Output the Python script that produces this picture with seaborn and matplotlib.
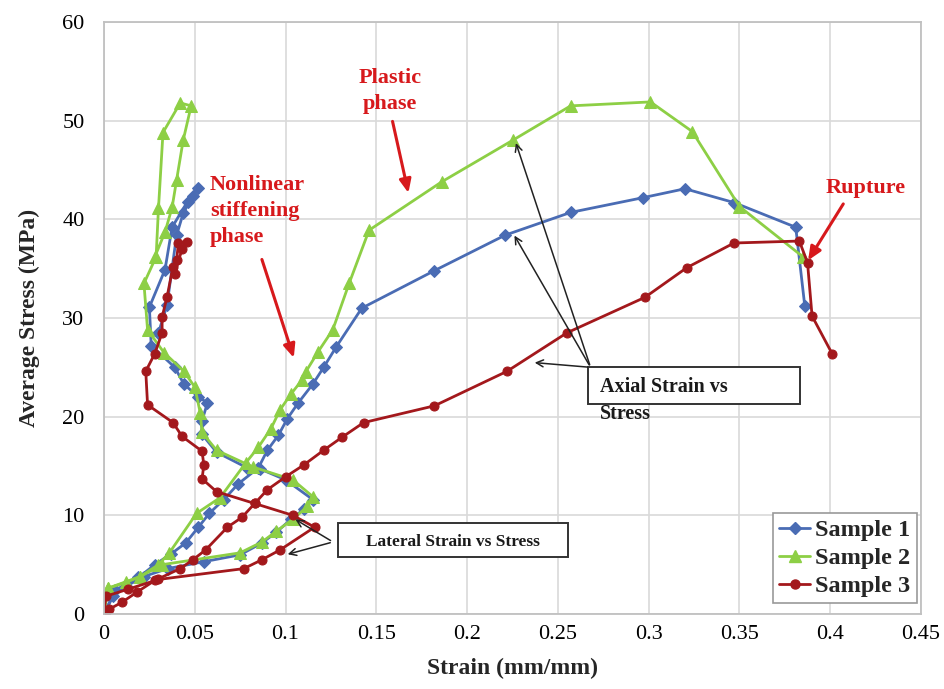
import matplotlib
matplotlib.use("Agg")
import matplotlib.pyplot as plt
from matplotlib.patches import Rectangle
from matplotlib.lines import Line2D
import seaborn as sns

# Axial and lateral stress-strain data (strain in mm/mm, stress in MPa)
s1_axial_strain = [0, 0.006, 0.019, 0.028, 0.037, 0.045, 0.052, 0.058, 0.066, 0.074, 0.085, 0.090,
                   0.096, 0.101, 0.107, 0.115, 0.121, 0.128, 0.142, 0.182, 0.221, 0.257, 0.297,
                   0.320, 0.347, 0.381, 0.386]
s1_axial_stress = [0, 2.4, 3.7, 5.0, 6.1, 7.2, 8.8, 10.2, 11.6, 13.2, 14.8, 16.6,
                   18.1, 19.8, 21.4, 23.3, 25.0, 27.1, 31.0, 34.8, 38.4, 40.7, 42.2,
                   43.1, 41.7, 39.2, 31.2]
s1_lat_strain = [0, 0.005, 0.012, 0.022, 0.035, 0.055, 0.075, 0.087, 0.095, 0.103, 0.110, 0.115,
                 0.100, 0.086, 0.079, 0.062, 0.054, 0.054, 0.057, 0.052, 0.044, 0.039, 0.026,
                 0.025, 0.0336, 0.0375, 0.046, 0.052, 0.049, 0.0436, 0.040, 0.0347, 0.030]
s1_lat_stress = [0, 1.8, 2.8, 3.8, 4.6, 5.3, 6.0, 7.2, 8.3, 9.6, 10.6, 11.6,
                 13.6, 14.7, 14.8, 16.4, 18.2, 19.6, 21.4, 22.0, 23.3, 25.0, 27.2,
                 31.1, 34.9, 39.2, 41.8, 43.2, 42.4, 40.6, 38.4, 31.3, 28.5]

s2_axial_strain = [0, 0.002, 0.020, 0.030, 0.036, 0.051, 0.064, 0.078, 0.085, 0.092, 0.097,
                   0.103, 0.109, 0.111, 0.118, 0.126, 0.135, 0.146, 0.186, 0.225, 0.257,
                   0.301, 0.324, 0.350, 0.385]
s2_axial_stress = [0, 2.6, 3.8, 5.0, 6.2, 10.2, 11.8, 15.3, 16.9, 18.8, 20.7,
                   22.3, 23.7, 24.5, 26.6, 28.8, 33.5, 38.9, 43.8, 48.0, 51.5,
                   51.9, 48.9, 41.3, 36.2]
s2_lat_strain = [0, 0.002, 0.012, 0.020, 0.032, 0.075, 0.087, 0.095, 0.104, 0.112, 0.115,
                 0.104, 0.082, 0.062, 0.054, 0.053, 0.050, 0.044, 0.033, 0.024, 0.022,
                 0.0287, 0.030, 0.0325, 0.042, 0.048, 0.0436, 0.040, 0.0375, 0.0336, 0.028]
s2_lat_stress = [0, 2.6, 3.2, 3.8, 5.0, 6.2, 7.3, 8.4, 9.6, 10.9, 11.9,
                 13.6, 14.9, 16.6, 18.4, 20.4, 23.0, 24.6, 26.5, 28.8, 33.5,
                 36.2, 41.1, 48.8, 51.8, 51.5, 48.0, 44.0, 41.2, 38.7, 36.2]

s3_axial_strain = [0, 0.003, 0.010, 0.018, 0.028, 0.042, 0.049, 0.056, 0.068, 0.076, 0.083,
                   0.090, 0.100, 0.110, 0.121, 0.131, 0.143, 0.182, 0.222, 0.255, 0.298,
                   0.321, 0.347, 0.383, 0.3875, 0.390, 0.401]
s3_axial_stress = [0, 0.5, 1.2, 2.2, 3.4, 4.6, 5.5, 6.5, 8.8, 9.8, 11.2,
                   12.6, 13.9, 15.1, 16.6, 17.9, 19.4, 21.1, 24.6, 28.5, 32.1,
                   35.1, 37.6, 37.8, 35.6, 30.2, 26.4]
s3_lat_strain = [0, 0.001, 0.013, 0.030, 0.077, 0.087, 0.097, 0.116, 0.104, 0.083, 0.062,
                 0.054, 0.055, 0.054, 0.043, 0.038, 0.024, 0.023, 0.028, 0.032, 0.032,
                 0.0347, 0.038, 0.040, 0.041, 0.0457, 0.043, 0.039]
s3_lat_stress = [0, 1.8, 2.5, 3.5, 4.6, 5.5, 6.5, 8.8, 10.0, 11.2, 12.4,
                 13.7, 15.1, 16.5, 18.0, 19.4, 21.2, 24.6, 26.4, 28.5, 30.1,
                 32.1, 35.2, 35.9, 37.6, 37.7, 37.0, 34.5]

sample_names = ["Sample 1", "Sample 2", "Sample 3"]
sample_colors = ["#4a6cb4", "#8dcf45", "#a3181c"]
sample_markers = ["D", "^", "o"]
sample_msizes = [6.5, 8, 6.5]

x_ticks = [0, 0.05, 0.1, 0.15, 0.2, 0.25, 0.3, 0.35, 0.4, 0.45]
x_ticklabels = ["0", "0.05", "0.1", "0.15", "0.2", "0.25", "0.3", "0.35", "0.4", "0.45"]
y_ticks = [0, 10, 20, 30, 40, 50, 60]

sns.set_style("white")
plt.rcParams["font.family"] = ["Liberation Serif", "DejaVu Serif"]

fig = plt.figure(figsize=(9.44, 6.89), dpi=100)
ax = fig.add_axes([104 / 944, 1 - 614 / 689, 817 / 944, 592 / 689])

series = [
    (s1_axial_strain, s1_axial_stress, s1_lat_strain, s1_lat_stress),
    (s2_axial_strain, s2_axial_stress, s2_lat_strain, s2_lat_stress),
    (s3_axial_strain, s3_axial_stress, s3_lat_strain, s3_lat_stress),
]

for (ax_x, ax_y, lat_x, lat_y), c, m, ms in zip(series, sample_colors, sample_markers, sample_msizes):
    for xs, ys in ((lat_x, lat_y), (ax_x, ax_y)):
        sns.lineplot(x=xs, y=ys, sort=False, estimator=None, ax=ax, color=c,
                     marker=m, markersize=ms, markeredgecolor=c, linewidth=2.0,
                     legend=False)

ax.set_xlim(0, 0.45)
ax.set_ylim(0, 60)
ax.set_xticks(x_ticks)
ax.set_xticklabels(x_ticklabels)
ax.set_yticks(y_ticks)
ax.grid(True, color="#d9d9d9", linewidth=1.2)
ax.set_axisbelow(True)
for sp in ax.spines.values():
    sp.set_color("#c0c0c0")
    sp.set_linewidth(1.3)
ax.tick_params(axis="both", length=0, labelsize=16, colors="black")
ax.tick_params(axis="y", pad=14)
ax.tick_params(axis="x", pad=8)

ax.set_xlabel("Strain (mm/mm)", fontsize=17, fontweight="bold", labelpad=10)
ax.set_ylabel("Average Stress (MPa)", fontsize=17, fontweight="bold", labelpad=16)

red = "#d7191c"
txt_kw = dict(color=red, fontsize=16, fontweight="bold")
arrow_red = dict(arrowstyle="-|>,head_length=0.8,head_width=0.35", color=red, lw=2.2)
ax.text(0.1575, 53.0, "Plastic\nphase", ha="center", va="center", linespacing=1.45, **txt_kw)
ax.annotate("", xy=(0.168, 42.4), xytext=(0.1586, 50.2), arrowprops=arrow_red)
ax.text(0.0584, 40.8, "Nonlinear\nstiffening\nphase", ha="left", va="center", linespacing=1.4, **txt_kw)
ax.annotate("", xy=(0.105, 25.7), xytext=(0.0865, 36.2), arrowprops=arrow_red)
ax.text(0.4197, 43.2, "Rupture", ha="center", va="center", **txt_kw)
ax.annotate("", xy=(0.387, 35.6), xytext=(0.408, 41.8), arrowprops=arrow_red)

# Axial callout
ax.add_patch(Rectangle((0.2666, 21.3), 0.1168, 3.7, facecolor="white",
                       edgecolor="#333333", linewidth=1.4, zorder=4))
ax.text(0.273, 23.0, "Axial Strain vs", ha="left", va="center", fontsize=14.5,
        fontweight="bold", color="#1a1a1a", zorder=5)
ax.text(0.273, 20.3, "Stress", ha="left", va="center", fontsize=14.5,
        fontweight="bold", color="#1a1a1a", zorder=5)
for tx, ty in ((0.2264, 48.0), (0.2253, 38.6), (0.2357, 25.5)):
    ax.annotate("", xy=(tx, ty), xytext=(0.268, 25.0),
                arrowprops=dict(arrowstyle="->,head_length=0.5,head_width=0.25",
                                color="#222222", lw=1.1), zorder=5)

# Lateral callout
ax.add_patch(Rectangle((0.1289, 5.78), 0.1267, 3.44, facecolor="white",
                       edgecolor="#333333", linewidth=1.4, zorder=4))
ax.text(0.1922, 7.3, "Lateral Strain vs Stress", ha="center", va="center", fontsize=12.5,
        fontweight="bold", color="#1a1a1a", zorder=5)
for tx, ty in ((0.1041, 9.73), (0.0997, 5.98)):
    ax.annotate("", xy=(tx, ty), xytext=(0.1261, 7.3),
                arrowprops=dict(arrowstyle="->,head_length=0.5,head_width=0.25",
                                color="#222222", lw=1.1), zorder=5)

handles = [Line2D([], [], color=c, marker=m, markersize=ms, markeredgecolor=c, linewidth=2.0)
           for c, m, ms in zip(sample_colors, sample_markers, sample_msizes)]
leg = ax.legend(handles, sample_names, loc="lower right", bbox_to_anchor=(0.9945, 0.018),
                frameon=True, fancybox=False, framealpha=1, edgecolor="#999999",
                prop=dict(size=17.5, weight="bold"), handlelength=1.3, handletextpad=0.2,
                labelspacing=0.25, borderpad=0.25, borderaxespad=0)
leg.get_frame().set_linewidth(1.2)

fig.savefig("out.png", dpi=100)
